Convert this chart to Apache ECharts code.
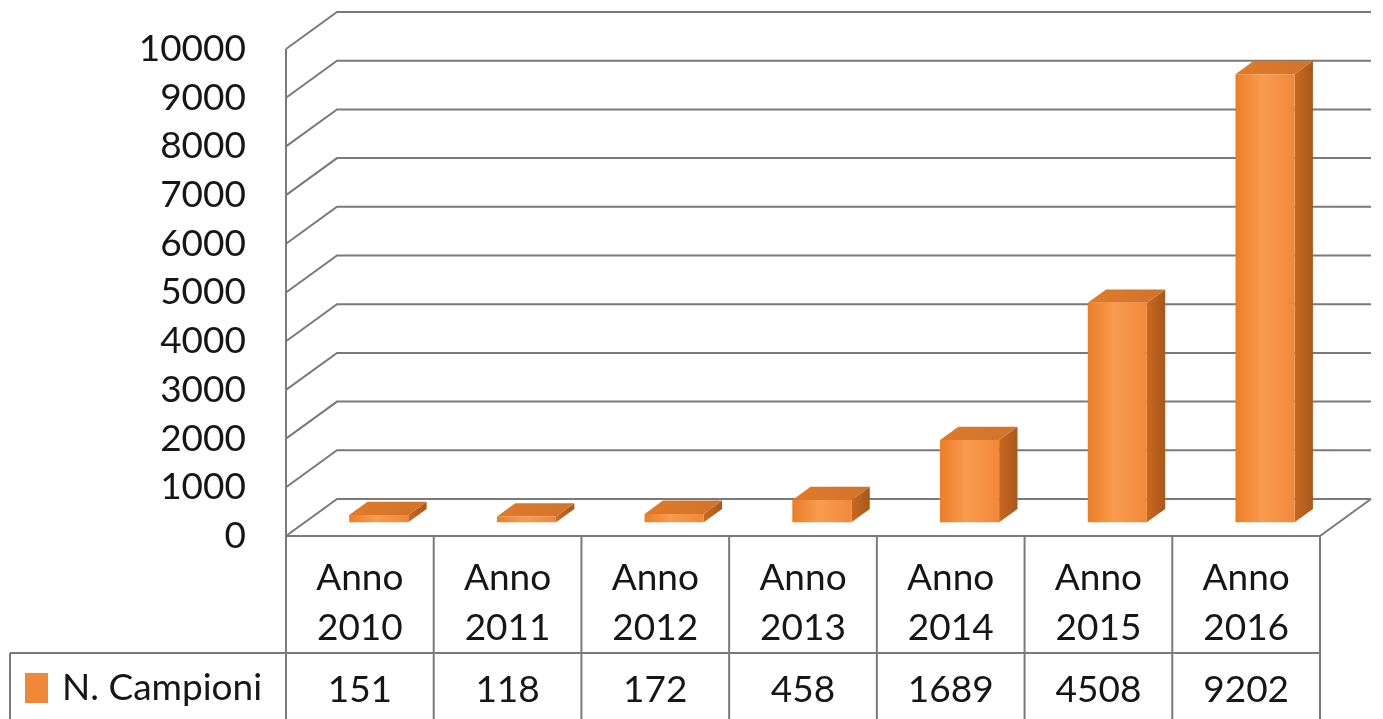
<!DOCTYPE html>
<html>
<head>
<meta charset="utf-8">
<script src="https://cdn.jsdelivr.net/npm/echarts@6/dist/echarts.min.js"></script>
<style>
  html, body { margin: 0; padding: 0; background: #ffffff; }
  #chart { width: 1383px; height: 719px; }
</style>
</head>
<body>
<div id="chart"></div>
<script>
// Samples per year
const years = ['2010', '2011', '2012', '2013', '2014', '2015', '2016'];
const headerPrefix = 'Anno';
const campioni = [151, 118, 172, 458, 1689, 4508, 9202];
const seriesName = 'N. Campioni';
const yMin = 0, yMax = 10000, yStep = 1000;

// Oblique "3D" look: pixel offset of the full floor depth, and where boxes sit in it
const DEPTH_DX = 51, DEPTH_DY = -37;
const BAR_FRONT = 0.37, BAR_BACK = 0.73, BAR_WIDTH = 0.4;
const TABLE_LEFT = 10, HEADER_H = 117, VALUE_ROW_MID = 154, TABLE_BOTTOM = 190;
const FONT = 'Lato, "Open Sans", sans-serif';
const FONT_SIZE = 37;
const LINE = '#7a7a7a';
const TEXT = '#161616';

const chart = echarts.init(document.getElementById('chart'), null, { renderer: 'canvas' });

// walls, floor and data table grid
function renderFrame(params, api) {
  const n = years.length;
  const bw = api.size([1, 0])[0];
  const x0 = api.coord([0, 0])[0] - bw / 2;
  const x1 = api.coord([n - 1, 0])[0] + bw / 2;
  const y0 = api.coord([0, yMin])[1];
  const yTop = api.coord([0, yMax])[1];
  const style = { stroke: LINE, lineWidth: 2, fill: null };
  const children = [];
  for (let v = yMin; v <= yMax; v += yStep) {
    const y = api.coord([0, v])[1];
    children.push({
      type: 'polyline',
      shape: { points: [[x0, y], [x0 + DEPTH_DX, y + DEPTH_DY], [x1 + DEPTH_DX, y + DEPTH_DY]] },
      style
    });
  }
  // vertical axis edge running down into the table
  children.push({ type: 'line', shape: { x1: x0, y1: yTop, x2: x0, y2: y0 + TABLE_BOTTOM }, style });
  // front and right edges of the floor
  children.push({ type: 'line', shape: { x1: x0, y1: y0, x2: x1, y2: y0 }, style });
  children.push({ type: 'line', shape: { x1: x1, y1: y0, x2: x1 + DEPTH_DX, y2: y0 + DEPTH_DY }, style });
  // table rows and columns
  children.push({ type: 'line', shape: { x1: TABLE_LEFT, y1: y0 + HEADER_H, x2: x1, y2: y0 + HEADER_H }, style });
  children.push({ type: 'line', shape: { x1: TABLE_LEFT, y1: y0 + HEADER_H, x2: TABLE_LEFT, y2: y0 + TABLE_BOTTOM }, style });
  for (let k = 1; k <= n; k++) {
    const x = x0 + k * bw;
    children.push({ type: 'line', shape: { x1: x, y1: y0, x2: x, y2: y0 + TABLE_BOTTOM }, style });
  }
  return { type: 'group', children };
}

// value row of the data table
function renderValueCell(params, api) {
  const i = api.value(0), v = api.value(1);
  const c = api.coord([i, yMin]);
  return {
    type: 'text',
    x: c[0],
    y: c[1] + VALUE_ROW_MID,
    style: {
      text: String(v),
      fill: TEXT,
      font: FONT_SIZE + 'px ' + FONT,
      align: 'center',
      verticalAlign: 'middle'
    }
  };
}

// box-shaped column: front, right side and top faces
function renderBox(params, api) {
  const i = api.value(0), v = api.value(1);
  const base = api.coord([i, yMin]);
  const top = api.coord([i, v]);
  const w = api.size([1, 0])[0] * BAR_WIDTH;
  const fx = base[0] - w / 2 + DEPTH_DX * BAR_FRONT;
  const fy0 = base[1] + DEPTH_DY * BAR_FRONT;
  const fy1 = top[1] + DEPTH_DY * BAR_FRONT;
  const ddx = DEPTH_DX * (BAR_BACK - BAR_FRONT);
  const ddy = DEPTH_DY * (BAR_BACK - BAR_FRONT);
  const frontFill = new echarts.graphic.LinearGradient(0, 0, 1, 0, [
    { offset: 0, color: '#EC7D27' },
    { offset: 0.45, color: '#F99B4E' },
    { offset: 1, color: '#F1883A' }
  ]);
  const sideFill = new echarts.graphic.LinearGradient(0, 0, 1, 0, [
    { offset: 0, color: '#C8691F' },
    { offset: 1, color: '#A9571B' }
  ]);
  const topFill = new echarts.graphic.LinearGradient(0, 1, 1, 0, [
    { offset: 0, color: '#E07A2A' },
    { offset: 1, color: '#D0732C' }
  ]);
  return {
    type: 'group',
    children: [
      {
        type: 'polygon',
        shape: { points: [[fx + w, fy1], [fx + w + ddx, fy1 + ddy], [fx + w + ddx, fy0 + ddy], [fx + w, fy0]] },
        style: { fill: sideFill }
      },
      {
        type: 'polygon',
        shape: { points: [[fx, fy1], [fx + ddx, fy1 + ddy], [fx + w + ddx, fy1 + ddy], [fx + w, fy1]] },
        style: { fill: topFill }
      },
      {
        type: 'rect',
        shape: { x: fx, y: fy1, width: w, height: fy0 - fy1 },
        style: { fill: frontFill }
      }
    ]
  };
}

const barData = campioni.map((v, i) => [i, v]);

chart.setOption({
  animation: false,
  backgroundColor: '#ffffff',
  grid: { left: 286, right: 63, top: 49, bottom: 183 },
  legend: {
    data: [seriesName],
    left: 25,
    top: 668,
    icon: 'rect',
    itemWidth: 23,
    itemHeight: 30,
    padding: 0,
    textStyle: {
      fontFamily: FONT,
      fontSize: FONT_SIZE,
      lineHeight: 40,
      color: TEXT,
      padding: [0, 0, 0, 9]
    }
  },
  xAxis: {
    type: 'category',
    data: years,
    axisLine: { show: false },
    axisTick: { show: false },
    splitLine: { show: false },
    axisLabel: {
      interval: 0,
      margin: 17,
      fontFamily: FONT,
      fontSize: FONT_SIZE,
      lineHeight: 50,
      color: TEXT,
      formatter: (y) => headerPrefix + '\n' + y
    }
  },
  yAxis: {
    type: 'value',
    min: yMin,
    max: yMax,
    interval: yStep,
    axisLine: { show: false },
    axisTick: { show: false },
    splitLine: { show: false },
    axisLabel: {
      margin: 40,
      fontFamily: FONT,
      fontSize: FONT_SIZE,
      color: TEXT,
      formatter: (v) => String(v)
    }
  },
  series: [
    {
      type: 'custom',
      name: 'frame',
      renderItem: renderFrame,
      data: [[0, 0]],
      silent: true,
      z: 1
    },
    {
      type: 'custom',
      name: 'table',
      renderItem: renderValueCell,
      data: barData,
      silent: true,
      z: 2
    },
    {
      type: 'custom',
      name: seriesName,
      renderItem: renderBox,
      data: barData,
      itemStyle: { color: '#F0883A' },
      z: 3
    }
  ]
});
</script>
</body>
</html>
